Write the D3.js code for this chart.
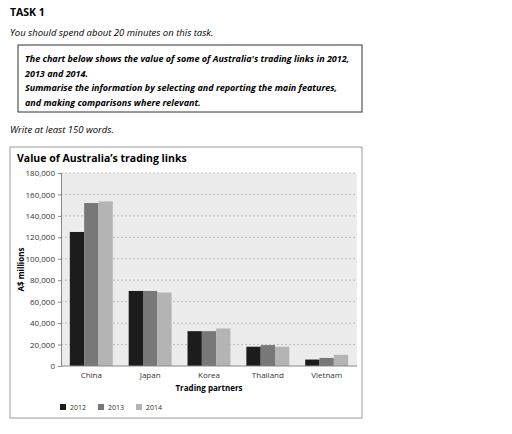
<!DOCTYPE html>
<html><head><meta charset="utf-8">
<script src="https://cdnjs.cloudflare.com/ajax/libs/d3/7.8.5/d3.min.js"></script>
<style>body{margin:0;background:#fff}svg,svg text{font-family:"Open Sans",sans-serif}</style>
</head><body><svg id="c" width="512" height="434"></svg>
<script>
var partners = ["China","Japan","Korea","Thailand","Vietnam"];
var years = ["2012","2013","2014"];
var v2012 = [125000,70000,32500,18000,6000];
var v2013 = [152000,70000,32500,19500,7500];
var v2014 = [153500,68500,35000,18000,10500];
var yTicks = [0,20000,40000,60000,80000,100000,120000,140000,160000,180000];
var colors = ["#1c1c1c","#787878","#b4b4b4"];

var svg = d3.select("#c");
// task text
svg.append("text").attr("x",10).attr("y",16).attr("font-size",10.5).attr("font-weight","bold").text("TASK 1");
svg.append("text").attr("x",10).attr("y",36).attr("font-size",9.5).attr("font-style","italic").text("You should spend about 20 minutes on this task.");
svg.append("rect").attr("x",18).attr("y",45).attr("width",344).attr("height",67).attr("fill","none").attr("stroke","#333");
["The chart below shows the value of some of Australia's trading links in 2012,","2013 and 2014.","Summarise the information by selecting and reporting the main features,","and making comparisons where relevant."].forEach(function(t,i){
  svg.append("text").attr("x",25).attr("y",62+i*14.5).attr("font-size",9).attr("font-weight","bold").attr("font-style","italic").text(t);
});
svg.append("text").attr("x",10).attr("y",133).attr("font-size",9.5).attr("font-style","italic").text("Write at least 150 words.");

// chart frame
svg.append("rect").attr("x",10).attr("y",147).attr("width",352).attr("height",271).attr("fill","none").attr("stroke","#999");
svg.append("text").attr("x",17).attr("y",162).attr("font-size",10.5).attr("font-weight","bold").text("Value of Australia\u2019s trading links");

var m = {l:61,t:173,r:357,b:366};
var x = d3.scaleBand().domain(partners).range([m.l,m.r]).paddingInner(0.27).paddingOuter(0.15);
var xs = d3.scaleBand().domain(years).range([0,x.bandwidth()]);
var y = d3.scaleLinear().domain([0,180000]).range([m.b,m.t]);

svg.append("rect").attr("x",m.l).attr("y",m.t).attr("width",m.r-m.l).attr("height",m.b-m.t).attr("fill","#ececec");
svg.append("g").selectAll("line").data(yTicks.slice(1)).enter().append("line")
  .attr("x1",m.l).attr("x2",m.r).attr("y1",d=>y(d)).attr("y2",d=>y(d))
  .attr("stroke","#aaa").attr("stroke-dasharray","2,2").attr("stroke-width",0.7);

var yAxis = svg.append("g").attr("transform","translate("+m.l+",0)")
  .call(d3.axisLeft(y).tickValues(yTicks).tickFormat(d3.format(",")).tickSize(3));
yAxis.attr("font-family",null);
yAxis.selectAll("text").attr("font-size",8).attr("fill","#333");
yAxis.select(".domain").attr("stroke","#888");
yAxis.selectAll(".tick line").attr("stroke","#888");

var series = [v2012,v2013,v2014];
var g = svg.append("g");
partners.forEach(function(p,i){
  years.forEach(function(yr,j){
    g.append("rect").attr("x",x(p)+xs(yr)).attr("width",xs.bandwidth())
      .attr("y",y(series[j][i])).attr("height",m.b-y(series[j][i])).attr("fill",colors[j]);
  });
});
svg.append("line").attr("x1",m.l).attr("x2",m.r).attr("y1",m.b).attr("y2",m.b).attr("stroke","#888");
var xAxis = svg.append("g").attr("transform","translate(0,"+m.b+")").call(d3.axisBottom(x).tickSize(0).tickPadding(6));
xAxis.attr("font-family",null);
xAxis.select(".domain").remove();
xAxis.selectAll("text").attr("font-size",8).attr("fill","#333");

svg.append("text").attr("x",(m.l+m.r)/2).attr("y",391).attr("text-anchor","middle").attr("font-size",8).attr("font-weight","bold").text("Trading partners");
svg.append("text").attr("transform","translate(24,"+((m.t+m.b)/2)+")rotate(-90)").attr("text-anchor","middle").attr("font-size",8).attr("font-weight","bold").text("A$ millions");

years.forEach(function(yr,j){
  var lx = 60+j*38;
  svg.append("rect").attr("x",lx).attr("y",404).attr("width",6).attr("height",6).attr("fill",colors[j]);
  svg.append("text").attr("x",lx+10).attr("y",410).attr("font-size",7).attr("fill","#333").text(yr);
});
</script></body></html>
